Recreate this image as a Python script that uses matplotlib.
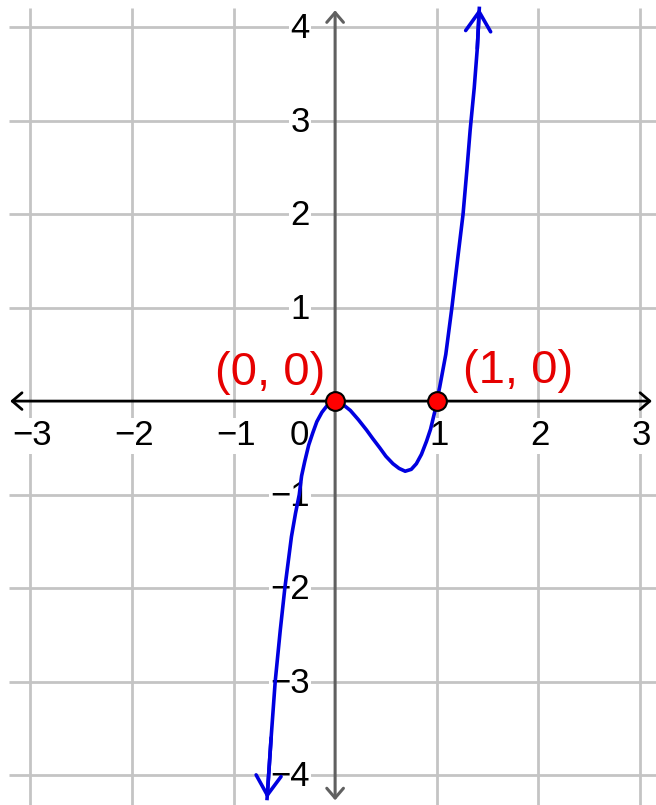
import matplotlib.pyplot as plt

plt.rcParams['font.family'] = ['Liberation Sans', 'DejaVu Sans']

# curve points
curve_x = [-0.67, -0.63, -0.59, -0.54, -0.495, -0.43, -0.39, -0.353, -0.33, -0.30,
           -0.26, -0.22, -0.18, -0.13, -0.08, -0.04, 0.0, 0.07, 0.15, 0.23,
           0.31, 0.37, 0.44, 0.50, 0.57, 0.63, 0.69, 0.75, 0.80, 0.85,
           0.90, 0.94, 0.98, 1.0, 1.03, 1.09, 1.15, 1.21, 1.26, 1.30,
           1.33, 1.37, 1.40, 1.42]
curve_y = [-4.25, -3.6, -3.0, -2.45, -2.0, -1.45, -1.2, -1.0, -0.8, -0.65,
           -0.47, -0.34, -0.22, -0.12, -0.05, -0.015, 0.0, -0.03, -0.1, -0.2,
           -0.31, -0.4, -0.5, -0.59, -0.67, -0.72, -0.75, -0.73, -0.67, -0.57,
           -0.43, -0.3, -0.12, 0.0, 0.15, 0.5, 1.0, 1.55, 2.0, 2.5,
           2.9, 3.35, 3.77, 4.2]

# marked points
point_x = [0, 1]
point_y = [0, 0]
point_labels = ["(0, 0)", "(1, 0)"]

# tick labels
x_ticks = [-3, -2, -1, 1, 2, 3]
y_ticks = [-4, -3, -2, -1, 1, 2, 3, 4]

fig = plt.figure(figsize=(6.56, 8.05), dpi=100)
ax = fig.add_axes([0, 0, 1, 1])
ax.set_xlim(-3.30, 3.16)
ax.set_ylim(-4.32, 4.29)
ax.axis('off')

# grid
grid_x = [-3, -2, -1, 1, 2, 3]
grid_y = [-4, -3, -2, -1, 1, 2, 3, 4]
ax.vlines(grid_x, -4.32, 4.2, colors='#c4c4c4', lw=2.0, zorder=0)
ax.hlines(grid_y, -3.21, 3.16, colors='#c4c4c4', lw=2.0, zorder=0)

# axes with arrows
ax.annotate('', xy=(-3.2, 0), xytext=(3.12, 0),
            arrowprops=dict(arrowstyle='<->,head_length=0.35,head_width=0.3',
                            color='black', lw=2, mutation_scale=20,
                            shrinkA=0, shrinkB=0), zorder=2)
ax.annotate('', xy=(0, -4.27), xytext=(0, 4.18),
            arrowprops=dict(arrowstyle='<->,head_length=0.35,head_width=0.3',
                            color='#606060', lw=2.2, mutation_scale=20,
                            shrinkA=0, shrinkB=0), zorder=2)

# tick labels
for x in x_ticks:
    lab = str(x).replace('-', '\u2212')
    ax.text(x + 0.02, -0.37, lab, ha='center', va='center', fontsize=25,
            color='black', zorder=1,
            bbox=dict(facecolor='white', edgecolor='none', pad=1))
ax.text(-0.355, -0.37, "0", ha='center', va='center', fontsize=25,
        color='black', zorder=1)
for y in y_ticks:
    lab = str(y).replace('-', '\u2212')
    ax.text(-0.25, y - 0.02, lab, ha='right', va='center', fontsize=25,
            color='black', zorder=1,
            bbox=dict(facecolor='white', edgecolor='none', pad=1))

# curve with arrows on both ends
blue = '#0000e0'
ax.plot(curve_x, curve_y, color=blue, lw=2.6, zorder=4)
for i, j in [(-2, -1), (1, 0)]:
    ax.annotate('', xy=(curve_x[j], curve_y[j]), xytext=(curve_x[i], curve_y[i]),
                arrowprops=dict(arrowstyle='->,head_length=0.7,head_width=0.45',
                                color=blue, lw=2.6, mutation_scale=20,
                                shrinkA=0, shrinkB=0), zorder=4)

# points and their labels
ax.plot(point_x, point_y, 'o', ms=13.5, mfc='red', mec='black', mew=1.5, zorder=6)
ax.text(-0.1, 0.17, point_labels[0], ha='right', va='baseline', fontsize=34,
        color='#e60000', zorder=5)
ax.text(1.26, 0.19, point_labels[1], ha='left', va='baseline', fontsize=34,
        color='#e60000', zorder=5)

fig.savefig('out.png', dpi=100)
